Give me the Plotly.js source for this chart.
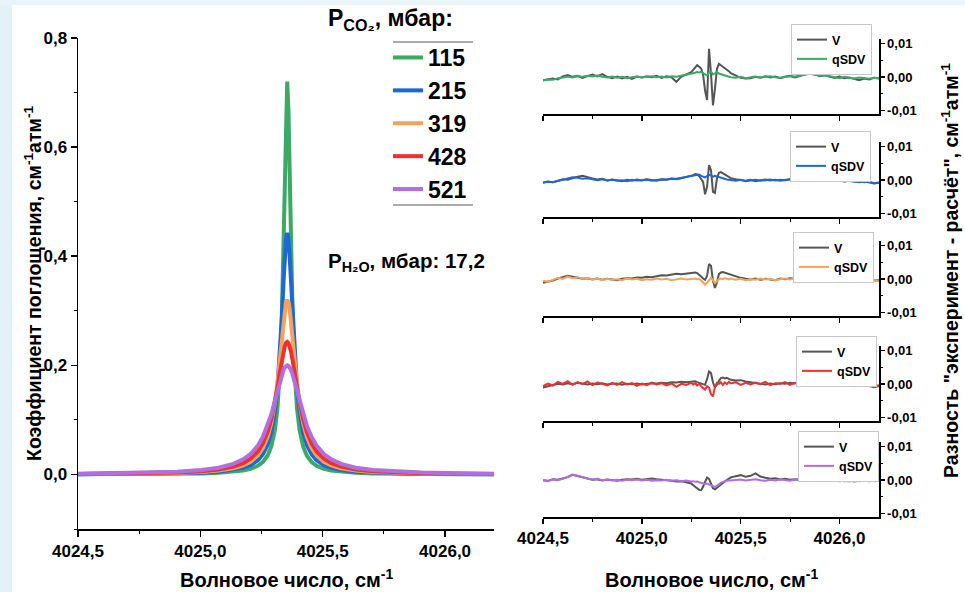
<!DOCTYPE html>
<html><head><meta charset="utf-8">
<script src="https://cdn.plot.ly/plotly-3.0.1.min.js"></script>
<style>html,body{margin:0;padding:0;background:#fff;}#chart{width:965px;height:592px;}</style>
</head><body><div id="chart"></div>
<script>
// ---------- Main panel data (absorption coefficient) ----------
const waveMain = [4024.500,4024.655,4024.805,4024.905,4025.005,4025.075,4025.135,4025.175,4025.205,4025.235,
  4025.255,4025.275,4025.290,4025.305,4025.315,4025.325,4025.333,4025.340,4025.345,4025.350,
  4025.355,
  4025.360,4025.365,4025.370,4025.377,4025.385,4025.395,4025.405,4025.420,4025.435,4025.455,
  4025.475,4025.505,4025.535,4025.575,4025.635,4025.705,4025.805,4025.905,4026.055,4026.200];
const pressures = ['115','215','319','428','521'];
const abs115 = [0.0003,0.0005,0.0008,0.0012,0.0019,0.0030,0.0048,0.0071,0.0102,0.0158,
  0.0226,0.0347,0.0513,0.0826,0.121,0.191,0.289,0.425,0.550,0.668,
  0.720,
  0.668,0.550,0.425,0.289,0.191,0.121,0.0826,0.0513,0.0347,0.0226,
  0.0158,0.0102,0.0071,0.0048,0.0030,0.0019,0.0012,0.0008,0.0005,0.0003];
const abs215 = [0.0005,0.0008,0.0013,0.0020,0.0032,0.0050,0.0081,0.0120,0.0170,0.0261,
  0.0366,0.0546,0.0778,0.117,0.159,0.2215,0.288,0.354,0.399,0.431,
  0.443,
  0.431,0.399,0.354,0.288,0.2215,0.159,0.117,0.0778,0.0546,0.0366,
  0.0261,0.0170,0.0120,0.0081,0.0050,0.0032,0.0020,0.0013,0.0008,0.0005];
const abs319 = [0.0008,0.0011,0.0019,0.0028,0.0045,0.0070,0.0113,0.0165,0.0233,0.0349,
  0.0480,0.0691,0.0943,0.132,0.168,0.212,0.251,0.284,0.303,0.316,
  0.320,
  0.316,0.303,0.284,0.251,0.212,0.168,0.132,0.0943,0.0691,0.0480,
  0.0349,0.0233,0.0165,0.0113,0.0070,0.0045,0.0028,0.0019,0.0011,0.0008];
const abs428 = [0.0010,0.0015,0.0024,0.0036,0.0059,0.0090,0.0143,0.0208,0.0288,0.0422,
  0.0564,0.0780,0.1014,0.133,0.159,0.187,0.2095,0.226,0.235,0.241,
  0.243,
  0.241,0.235,0.226,0.2095,0.187,0.159,0.133,0.1014,0.0780,0.0564,
  0.0422,0.0288,0.0208,0.0143,0.0090,0.0059,0.0036,0.0024,0.0015,0.0010];
const abs521 = [0.0014,0.0021,0.0034,0.0050,0.0081,0.0124,0.0193,0.0276,0.0375,0.0529,
  0.0683,0.0895,0.110,0.135,0.153,0.170,0.183,0.192,0.196,0.199,
  0.200,
  0.199,0.196,0.192,0.183,0.170,0.153,0.135,0.110,0.0895,0.0683,
  0.0529,0.0375,0.0276,0.0193,0.0124,0.0081,0.0050,0.0034,0.0021,0.0014];

// ---------- Residual panels data ----------
const waveRes = [4024.5,4024.525,4024.55,4024.575,4024.6,4024.625,4024.65,4024.675,4024.7,4024.725,
  4024.75,4024.775,4024.8,4024.825,4024.85,4024.875,4024.9,4024.925,4024.95,4024.975,
  4025.0,4025.025,4025.05,4025.075,4025.1,4025.125,4025.15,4025.175,4025.2,4025.225,4025.25,
  4025.26,4025.27,4025.28,4025.29,4025.30,4025.31,4025.32,4025.33,4025.34,4025.35,
  4025.36,4025.37,4025.38,4025.39,4025.40,4025.41,4025.42,4025.43,4025.44,4025.45,
  4025.475,4025.5,4025.525,4025.55,4025.575,4025.6,4025.625,4025.65,4025.675,4025.7,
  4025.725,4025.75,4025.775,4025.8,4025.825,4025.85,4025.875,4025.9,4025.925,4025.95,
  4025.975,4026.0,4026.025,4026.05,4026.075,4026.1,4026.125,4026.15,4026.175,4026.2];

const resV115 = [-0.0009,-0.0006,-0.0004,-0.0007,0.0002,0.0006,0.0001,0.0004,-0.0002,0.0003,
  0.0008,0.0002,0.0009,0.0001,-0.0003,0.0002,-0.0004,0.0001,-0.0005,0.0002,
  -0.0001,0.0003,0.0000,0.0004,-0.0002,0.0003,0.0000,-0.0014,0.0002,0.0008,0.0015,
  0.0022,0.0030,0.0036,0.0031,0.0026,0.0008,-0.0040,-0.0068,0.0085,0.0010,
  -0.0084,-0.0035,0.0025,0.0040,0.0036,0.0032,0.0027,0.0022,0.0018,0.0012,
  0.0006,-0.0002,-0.0004,-0.0003,0.0001,-0.0002,0.0003,-0.0001,0.0002,-0.0003,
  0.0001,0.0004,-0.0001,0.0003,0.0006,0.0012,0.0009,0.0003,0.0006,0.0001,
  -0.0002,0.0002,-0.0003,-0.0001,-0.0005,-0.0009,-0.0004,-0.0007,-0.0002,-0.0004];
const resQ115 = [-0.0010,-0.0007,-0.0008,-0.0003,-0.0001,0.0002,-0.0001,0.0003,0.0001,0.0004,
  0.0002,0.0005,0.0001,-0.0001,0.0002,-0.0002,0.0001,-0.0003,0.0000,0.0002,
  -0.0001,0.0001,0.0003,0.0000,0.0002,-0.0001,0.0003,0.0001,0.0004,0.0006,0.0009,
  0.0011,0.0013,0.0015,0.0014,0.0016,0.0012,0.0009,0.0005,0.0013,0.0017,
  0.0008,0.0012,0.0015,0.0011,0.0009,0.0006,0.0004,0.0003,0.0001,0.0000,
  -0.0002,0.0001,-0.0003,-0.0001,0.0002,-0.0001,0.0001,0.0003,0.0000,-0.0002,
  0.0001,0.0003,0.0002,0.0005,0.0008,0.0010,0.0007,0.0004,0.0006,0.0002,
  0.0000,-0.0003,0.0001,-0.0002,-0.0004,-0.0001,-0.0003,-0.0005,-0.0002,-0.0003];
const resV215 = [-0.0007,-0.0004,-0.0006,-0.0001,0.0003,0.0001,0.0006,0.0010,0.0013,0.0008,
  0.0005,0.0002,0.0004,-0.0001,0.0002,0.0000,-0.0003,0.0001,-0.0002,0.0002,
  -0.0001,0.0003,0.0000,-0.0002,0.0002,0.0001,0.0004,0.0003,0.0006,0.0009,0.0012,
  0.0015,0.0018,0.0017,0.0012,0.0005,-0.0005,-0.0042,-0.0020,0.0045,0.0030,
  -0.0035,-0.0038,0.0005,0.0022,0.0024,0.0020,0.0016,0.0012,0.0009,0.0006,
  0.0003,0.0000,-0.0002,0.0001,-0.0003,0.0000,0.0002,-0.0001,0.0001,-0.0002,
  0.0000,0.0003,0.0001,0.0004,0.0008,0.0013,0.0010,0.0006,0.0003,0.0001,
  -0.0002,0.0000,-0.0003,-0.0001,-0.0004,-0.0006,-0.0003,-0.0007,-0.0010,-0.0008];
const resQ215 = [-0.0008,-0.0005,-0.0006,-0.0002,0.0002,0.0005,0.0009,0.0007,0.0004,0.0006,
  0.0002,0.0000,0.0003,-0.0001,0.0001,-0.0002,0.0000,-0.0003,0.0001,-0.0001,
  0.0000,0.0002,-0.0002,0.0001,0.0003,0.0002,0.0005,0.0004,0.0007,0.0010,0.0012,
  0.0014,0.0016,0.0015,0.0017,0.0013,0.0011,0.0008,0.0012,0.0016,0.0014,
  0.0010,0.0013,0.0011,0.0008,0.0006,0.0005,0.0003,0.0002,0.0001,0.0000,
  -0.0002,0.0001,-0.0003,-0.0001,0.0001,-0.0002,0.0000,0.0002,-0.0001,0.0001,
  0.0000,0.0003,0.0002,0.0006,0.0010,0.0012,0.0008,0.0005,0.0002,0.0000,
  -0.0002,-0.0001,-0.0004,-0.0002,-0.0005,-0.0003,-0.0006,-0.0004,-0.0009,-0.0007];
const resV319 = [-0.0011,-0.0008,-0.0004,0.0002,0.0006,0.0010,0.0007,0.0004,0.0001,0.0003,
  -0.0001,0.0002,-0.0002,0.0001,0.0000,-0.0003,0.0001,0.0003,0.0002,0.0005,
  0.0004,0.0007,0.0006,0.0010,0.0012,0.0011,0.0014,0.0016,0.0015,0.0017,0.0018,
  0.0019,0.0020,0.0018,0.0014,0.0008,0.0002,-0.0002,0.0010,0.0045,0.0040,
  -0.0005,-0.0026,-0.0010,0.0015,0.0020,0.0021,0.0019,0.0017,0.0015,0.0012,
  0.0008,0.0004,0.0001,-0.0001,0.0002,-0.0002,0.0001,0.0000,-0.0003,0.0002,
  0.0000,0.0003,0.0001,0.0004,0.0009,0.0014,0.0011,0.0007,0.0004,0.0002,
  -0.0001,0.0001,-0.0002,-0.0004,-0.0001,-0.0005,-0.0003,-0.0006,-0.0004,-0.0003];
const resQ319 = [-0.0005,-0.0008,-0.0002,0.0004,0.0001,0.0008,0.0003,0.0006,0.0001,0.0004,
  -0.0001,0.0002,-0.0003,0.0001,-0.0002,0.0000,-0.0003,0.0002,-0.0001,0.0001,
  -0.0003,0.0000,-0.0002,0.0002,-0.0001,0.0001,-0.0003,0.0000,0.0002,-0.0001,0.0001,
  0.0000,0.0002,-0.0001,0.0001,-0.0004,-0.0010,-0.0016,-0.0011,-0.0002,0.0004,
  -0.0003,-0.0012,-0.0006,0.0000,0.0002,0.0000,0.0003,0.0001,-0.0001,0.0002,
  -0.0002,0.0001,-0.0003,0.0000,-0.0002,0.0002,-0.0001,0.0001,-0.0003,0.0000,
  0.0002,-0.0001,0.0003,0.0001,0.0005,0.0009,0.0006,0.0003,0.0005,0.0001,
  -0.0002,0.0000,-0.0004,-0.0002,-0.0006,-0.0003,-0.0005,-0.0002,-0.0004,-0.0006];
const resV428 = [-0.0010,-0.0006,-0.0002,0.0001,-0.0001,0.0003,0.0000,0.0004,0.0002,-0.0001,
  0.0002,0.0000,0.0003,-0.0001,0.0001,0.0002,-0.0002,0.0001,0.0000,0.0002,
  -0.0001,0.0001,0.0003,0.0002,0.0004,0.0003,0.0006,0.0005,0.0007,0.0006,0.0008,
  0.0007,0.0009,0.0006,0.0004,0.0002,0.0000,-0.0002,0.0015,0.0038,0.0033,
  0.0005,-0.0010,-0.0002,0.0010,0.0018,0.0020,0.0017,0.0019,0.0015,0.0013,
  0.0011,0.0012,0.0008,0.0005,0.0003,0.0001,-0.0001,0.0002,0.0000,0.0003,
  0.0001,0.0004,0.0002,0.0005,0.0010,0.0014,0.0012,0.0008,0.0005,0.0003,
  0.0000,-0.0002,0.0001,-0.0003,-0.0001,-0.0004,-0.0002,-0.0006,-0.0009,-0.0005];
const resQ428 = [-0.0006,0.0002,-0.0004,0.0007,0.0001,0.0009,-0.0002,0.0006,0.0000,0.0008,
  -0.0003,0.0005,0.0001,-0.0004,0.0004,-0.0002,0.0006,-0.0001,0.0003,-0.0005,
  0.0002,-0.0003,0.0005,-0.0001,0.0003,-0.0004,0.0002,-0.0008,0.0001,-0.0002,0.0004,
  -0.0001,0.0003,-0.0004,0.0001,-0.0006,-0.0012,-0.0016,-0.0006,-0.0010,-0.0030,
  -0.0036,-0.0008,0.0004,0.0001,0.0006,-0.0002,0.0005,0.0000,0.0007,0.0002,
  0.0006,-0.0002,0.0004,-0.0001,0.0005,0.0000,0.0007,-0.0003,0.0003,0.0001,
  0.0006,-0.0002,0.0004,0.0001,0.0008,0.0013,0.0007,0.0010,0.0003,0.0006,
  -0.0001,0.0003,-0.0004,0.0001,-0.0006,-0.0002,-0.0005,0.0000,-0.0007,-0.0003];
const resV521 = [0.0000,-0.0002,0.0003,0.0001,0.0005,0.0009,0.0016,0.0012,0.0007,0.0004,
  0.0001,0.0003,-0.0001,0.0002,0.0000,-0.0002,0.0001,0.0003,0.0002,0.0004,
  0.0001,0.0003,0.0005,0.0003,0.0002,0.0000,-0.0002,-0.0004,-0.0003,-0.0006,-0.0010,
  -0.0015,-0.0019,-0.0024,-0.0029,-0.0030,-0.0020,-0.0005,0.0008,0.0004,-0.0012,
  -0.0024,-0.0027,-0.0022,-0.0017,-0.0012,-0.0008,-0.0004,0.0000,0.0004,0.0008,
  0.0012,0.0015,0.0010,0.0013,0.0020,0.0011,0.0007,0.0004,0.0006,0.0002,
  0.0004,0.0001,0.0003,0.0000,0.0004,0.0010,0.0008,0.0005,0.0002,0.0000,
  -0.0002,0.0001,-0.0003,-0.0001,-0.0004,-0.0002,0.0000,-0.0003,-0.0001,-0.0002];
const resQ521 = [0.0000,-0.0003,0.0002,0.0000,0.0004,0.0010,0.0017,0.0013,0.0008,0.0005,
  0.0002,0.0004,0.0000,0.0002,-0.0001,0.0001,-0.0002,0.0001,0.0000,0.0002,
  -0.0001,0.0001,-0.0002,0.0000,-0.0001,0.0001,-0.0002,0.0000,-0.0003,-0.0001,-0.0004,
  -0.0003,-0.0005,-0.0004,-0.0006,-0.0008,-0.0009,-0.0011,-0.0010,-0.0013,-0.0015,
  -0.0018,-0.0020,-0.0017,-0.0012,-0.0008,-0.0005,-0.0003,-0.0002,0.0000,-0.0001,
  0.0001,0.0002,-0.0001,0.0001,0.0003,0.0000,-0.0002,0.0001,-0.0001,0.0002,
  0.0000,-0.0002,0.0001,0.0004,0.0008,0.0012,0.0010,0.0006,0.0004,0.0001,
  -0.0001,-0.0003,-0.0002,-0.0004,-0.0001,-0.0003,-0.0002,0.0000,-0.0003,-0.0002];

// ---------- Tick labels ----------
const xTickVals = [4024.5, 4025.0, 4025.5, 4026.0];
const xTickText = ['4024,5', '4025,0', '4025,5', '4026,0'];
const yMainTickVals = [0, 0.2, 0.4, 0.6, 0.8];
const yMainTickText = ['0,0', '0,2', '0,4', '0,6', '0,8'];
const yResTickVals = [-0.01, 0, 0.01];
const yResTickText = ['-0,01', '0,00', '0,01'];
const residualNames = ['V', 'qSDV'];

// ---------- Styling / layout ----------
const FONT = 'Liberation Sans, Arial, Helvetica, sans-serif';
const W = 965, H = 592;
const px = v => v / W;
const py = v => 1 - v / H;
const colors = ['#3aaa64', '#1f66dd', '#f5a35a', '#ee3030', '#b06ee0'];
const greyV = '#555555';

const mainSeries = [abs115, abs215, abs319, abs428, abs521];
const resV = [resV115, resV215, resV319, resV428, resV521];
const resQ = [resQ115, resQ215, resQ319, resQ428, resQ521];

const traces = [];
mainSeries.forEach((ys, i) => {
  traces.push({
    x: waveMain, y: ys, type: 'scatter', mode: 'lines', name: pressures[i],
    line: {color: colors[i], width: 4}, xaxis: 'x', yaxis: 'y',
    legend: 'legend', legendgroup: 'g' + i, showlegend: true
  });
});
const panelTops = [39, 142, 241, 346, 442];
const panelBottoms = [114, 217, 316, 421, 517];
const legendPos = [[791, 24], [790, 131], [793, 232], [796, 336], [798, 431]];

for (let i = 0; i < 5; i++) {
  const n = i + 2;
  traces.push({
    x: waveRes, y: resV[i], type: 'scatter', mode: 'lines', name: residualNames[0],
    line: {color: greyV, width: 2}, xaxis: 'x' + n, yaxis: 'y' + n, legend: 'legend' + n
  });
  traces.push({
    x: waveRes, y: resQ[i], type: 'scatter', mode: 'lines', name: residualNames[1],
    line: {color: colors[i], width: 2}, xaxis: 'x' + n, yaxis: 'y' + n, legend: 'legend' + n
  });
}

const axisCommon = {
  showline: true, linecolor: '#000', linewidth: 1.5, ticks: 'outside', ticklen: 6,
  tickwidth: 1.5, tickcolor: '#000', showgrid: false, zeroline: false, fixedrange: true
};

const layout = {
  width: W, height: H, margin: {l: 0, r: 0, t: 0, b: 0, pad: 0},
  paper_bgcolor: '#ffffff', plot_bgcolor: 'rgba(0,0,0,0)',
  font: {family: FONT, color: '#000'},
  xaxis: Object.assign({}, axisCommon, {
    domain: [px(78), px(494)], range: [4024.5, 4026.2], anchor: 'y',
    tickmode: 'array', tickvals: xTickVals, ticktext: xTickText,
    tickfont: {family: FONT, size: 17, weight: 'bold', color: '#000'},
    minor: {dtick: 0.25, tick0: 4024.5, ticks: 'outside', ticklen: 3, tickwidth: 1, tickcolor: '#000'}
  }),
  yaxis: Object.assign({}, axisCommon, {
    domain: [py(529), py(38)], range: [-0.1, 0.8], anchor: 'x',
    tickmode: 'array', tickvals: yMainTickVals, ticktext: yMainTickText,
    tickfont: {family: FONT, size: 17, weight: 'bold', color: '#000'},
    minor: {dtick: 0.1, tick0: 0, ticks: 'outside', ticklen: 3, tickwidth: 1, tickcolor: '#000'}
  }),
  legend: {
    x: px(388), y: py(36), xanchor: 'left', yanchor: 'top', bgcolor: 'rgba(0,0,0,0)',
    borderwidth: 0, font: {family: FONT, size: 23, weight: 'bold', color: '#000'},
    itemwidth: 30, tracegroupgap: 0, traceorder: 'normal'
  },
  annotations: [
    {text: 'Волновое число, см<sup>-1</sup>', x: px(286), y: py(578), xref: 'paper', yref: 'paper',
     showarrow: false, xanchor: 'center', yanchor: 'middle', font: {family: FONT, size: 20, weight: 'bold'}},
    {text: 'Волновое число, см<sup>-1</sup>', x: px(711), y: py(578), xref: 'paper', yref: 'paper',
     showarrow: false, xanchor: 'center', yanchor: 'middle', font: {family: FONT, size: 20, weight: 'bold'}},
    {text: 'Коэффициент поглощения, см<sup>-1</sup>атм<sup>-1</sup>', x: px(33), y: py(284), xref: 'paper', yref: 'paper',
     showarrow: false, textangle: -90, xanchor: 'center', yanchor: 'middle', font: {family: FONT, size: 19.5, weight: 'bold'}},
    {text: 'Разность "эксперимент - расчёт", см<sup>-1</sup>атм<sup>-1</sup>', x: px(950), y: py(271), xref: 'paper', yref: 'paper',
     showarrow: false, textangle: -90, xanchor: 'center', yanchor: 'middle', font: {family: FONT, size: 19.5, weight: 'bold'}},
    {text: 'P<sub>CO₂</sub>, мбар:', x: px(326), y: py(20), xref: 'paper', yref: 'paper',
     showarrow: false, xanchor: 'left', yanchor: 'middle', font: {family: FONT, size: 23, weight: 'bold'}},
    {text: 'P<sub>H₂O</sub>, мбар: 17,2', x: px(326), y: py(262), xref: 'paper', yref: 'paper',
     showarrow: false, xanchor: 'left', yanchor: 'middle', font: {family: FONT, size: 20.5, weight: 'bold'}}
  ],
  shapes: [
    {type: 'rect', xref: 'paper', yref: 'paper', x0: 0, x1: px(12), y0: 0, y1: 1, line: {width: 0}, fillcolor: '#e4f1f7', layer: 'below'},
    {type: 'rect', xref: 'paper', yref: 'paper', x0: 0, x1: 1, y0: py(5), y1: 1, line: {width: 0}, fillcolor: '#e9f4f9', layer: 'below'},
    {type: 'line', xref: 'paper', yref: 'paper', x0: px(393), x1: px(473), y0: py(42), y1: py(42), line: {color: '#aaaaaa', width: 2}},
    {type: 'line', xref: 'paper', yref: 'paper', x0: px(393), x1: px(473), y0: py(205), y1: py(205), line: {color: '#aaaaaa', width: 2}}
  ]
};

for (let i = 0; i < 5; i++) {
  const n = i + 2;
  layout['xaxis' + n] = Object.assign({}, axisCommon, {
    domain: [px(543), px(879)], range: [4024.5, 4026.2], anchor: 'y' + n,
    tickmode: 'array', tickvals: xTickVals, ticktext: xTickText,
    showticklabels: i === 4, ticklen: 5,
    tickfont: {family: FONT, size: 17, weight: 'bold', color: '#000'},
    minor: {dtick: 0.25, tick0: 4024.5, ticks: 'outside', ticklen: 3, tickwidth: 1, tickcolor: '#000'}
  });
  layout['yaxis' + n] = Object.assign({}, axisCommon, {
    domain: [py(panelBottoms[i]), py(panelTops[i])], range: [-0.011, 0.0114], anchor: 'x' + n,
    side: 'right', tickmode: 'array', tickvals: yResTickVals, ticktext: yResTickText, ticklen: 4,
    tickfont: {family: FONT, size: 13, weight: 'bold', color: '#000'},
    minor: {dtick: 0.005, tick0: 0, ticks: 'outside', ticklen: 2, tickwidth: 1, tickcolor: '#000'}
  });
  layout['legend' + n] = {
    x: px(legendPos[i][0]), y: py(legendPos[i][1]), xanchor: 'left', yanchor: 'top',
    bgcolor: '#ffffff', bordercolor: '#c8c8c8', borderwidth: 1, itemwidth: 30,
    font: {family: FONT, size: 12.5, weight: 'bold', color: '#000'}, traceorder: 'normal'
  };
}

Plotly.newPlot('chart', traces, layout, {displayModeBar: false, staticPlot: true});
</script></body></html>
